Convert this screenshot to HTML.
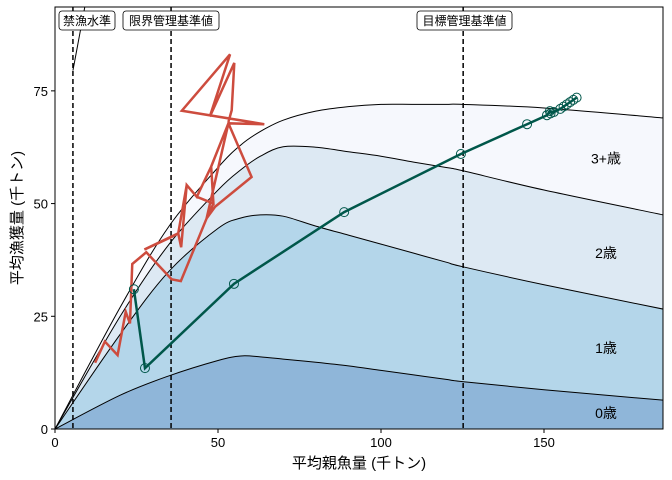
<!DOCTYPE html>
<html><head><meta charset="utf-8">
<style>
body{margin:0;background:#fff;}
svg{display:block;font-family:"Liberation Sans","Noto Sans CJK JP",sans-serif;}
</style></head>
<body>
<svg id="chart" width="672" height="480"></svg>
<script>
const xGrid=[0,20,35,50,57,63,70,80,90,100,110,120,125,150,186.5];
const curve0=[0,7.5,11.8,15.2,16.2,16.0,15.5,14.8,14.0,13.0,12.0,11.0,10.5,8.7,6.4];
const curve1=[0,21,35,44.5,46.8,47.5,47.2,45,43,41,39,37,36,32,26.6];
const curve2=[0,25,41,53,57.5,60.5,62.6,62.5,61.5,60.5,59.2,58,57.3,53,47.5];
const curve3=[0,27,45,58,63,66,68.5,70.5,71.5,72,72,72,72,71.2,69];
const ageLabels=["0歳","1歳","2歳","3+歳"];
const ageLabelY=[3.5,18,39,60];
const fills=["#8fb6d9","#b4d6ea","#dde9f3","#f6f8fd"];
const refNames=["禁漁水準","限界管理基準値","目標管理基準値"];
const refValues=[5.5,35.6,125.2];
const xTicks=[0,50,100,150];
const yTicks=[0,25,50,75];
const histSSB=[12.3,15.3,19.2,21.7,23.0,23.7,28.0,35.8,38.6,46.5,48.6,47.9,43.5,40.4,38.7,37.8,27.4,35.8,37.8,40.4,43.5,48.6,47.9,53.2,60.3,49.1,46.5,53.2,64.2,38.9,53.7,47.5,55.0,54.2,53.2];
const histCatch=[14.7,19.4,16.4,26.0,23.4,36.6,39.2,33.2,32.8,46.7,50.0,58.2,51.5,54.1,40.3,43.4,39.8,42.6,43.4,54.1,51.5,50.0,58.2,67.8,55.9,49.3,46.7,67.8,67.6,70.6,83.1,69.3,81.2,70.7,68.1];
const projSSB=[24.2,27.6,54.9,88.7,124.5,144.8,150.9,151.8,153,152,155,156,157,158,159,160];
const projCatch=[31.0,13.5,32.2,48.1,61.0,67.6,69.6,70.5,70.3,70.0,71,71.5,72,72.5,73,73.5];

const L=55,R=663,T=7,B=429,XMAX=186.5,YMAX=93.6;
const sx=v=>L+v/XMAX*(R-L), sy=v=>B-v/YMAX*(B-T);
const svg=document.getElementById('chart');
const NS='http://www.w3.org/2000/svg';
function mk(t,a,p){const e=document.createElementNS(NS,t);for(const k in a)e.setAttribute(k,a[k]);(p||svg).appendChild(e);return e;}
function smooth(c){
  const P=xGrid.map((x,i)=>[sx(x),sy(c[i])]);
  let d='M'+P[0][0]+','+P[0][1];
  for(let i=0;i<P.length-1;i++){
    const p0=P[i-1]||P[i],p1=P[i],p2=P[i+1],p3=P[i+2]||P[i+1];
    const c1=[p1[0]+(p2[0]-p0[0])/6,p1[1]+(p2[1]-p0[1])/6];
    const c2=[p2[0]-(p3[0]-p1[0])/6,p2[1]-(p3[1]-p1[1])/6];
    d+=' C'+c1+' '+c2+' '+p2;
  }
  return d;
}
const clip=mk('clipPath',{id:'pc'});mk('rect',{x:L,y:T,width:R-L,height:B-T},clip);
const g=mk('g',{'clip-path':'url(#pc)'});
const curves=[curve0,curve1,curve2,curve3];
for(let k=3;k>=0;k--){
  const a=mk('path',{d:smooth(curves[k])+' L'+R+','+B+' L'+L+','+B+' Z',fill:fills[k],stroke:'none'},g);
  
  
}
for(let k=0;k<4;k++){
  const l=mk('path',{d:smooth(curves[k]),fill:'none',stroke:'#000','stroke-width':1},g);
  
  
}
mk('line',{x1:sx(5.5),y1:sy(79.5),x2:sx(9.5),y2:sy(95),stroke:'#000','stroke-width':1},g);
refValues.forEach((v,i)=>{
  const l=mk('line',{x1:sx(v),x2:sx(v),y1:T,y2:B,stroke:'#000','stroke-width':1.5,'stroke-dasharray':'5,3'},g);
  
  
});
const hp=histSSB.map((x,i)=>sx(x)+','+sy(histCatch[i])).join(' ');
const hl=mk('polyline',{points:hp,fill:'none',stroke:'#cd4c3e','stroke-width':2.5},g);


const pp=projSSB.map((x,i)=>sx(x)+','+sy(projCatch[i])).join(' ');
const pl=mk('polyline',{points:pp,fill:'none',stroke:'#00574a','stroke-width':2.5},g);


projSSB.forEach((x,i)=>{
  const c=mk('circle',{cx:sx(x),cy:sy(projCatch[i]),r:4.5,fill:'none',stroke:'#00574a','stroke-width':1},g);
  
  
});
ageLabels.forEach((t,i)=>{
  const e=mk('text',{x:606,y:sy(ageLabelY[i])+5,'text-anchor':'middle','font-size':14});
  e.textContent=t;
  
  
});
const boxes=[[59,56],[123,96],[417,95]];
refNames.forEach((t,i)=>{
  const r=mk('rect',{x:boxes[i][0],y:11,width:boxes[i][1],height:19,rx:3,fill:'#fff',stroke:'#000','stroke-width':0.8});
  
  
  const e=mk('text',{x:boxes[i][0]+boxes[i][1]/2,y:25,'text-anchor':'middle','font-size':12});
  e.textContent=t;
  
  
});
mk('rect',{x:L,y:T,width:R-L,height:B-T,fill:'none',stroke:'#000','stroke-width':1});
xTicks.forEach(v=>{
  mk('line',{x1:sx(v),x2:sx(v),y1:B,y2:B+4,stroke:'#000'});
  const e=mk('text',{x:sx(v),y:B+18,'text-anchor':'middle','font-size':13});
  e.textContent=v;
  
  
});
yTicks.forEach(v=>{
  mk('line',{x1:L-4,x2:L,y1:sy(v),y2:sy(v),stroke:'#000'});
  const e=mk('text',{x:L-7,y:sy(v)+5,'text-anchor':'end','font-size':13});
  e.textContent=v;
  
  
});
const xt=mk('text',{x:359,y:468,'text-anchor':'middle','font-size':15});
xt.textContent='平均親魚量 (千トン)';


const yt=mk('text',{x:0,y:0,'text-anchor':'middle','font-size':15,transform:'translate(22,218) rotate(-90)'});
yt.textContent='平均漁獲量 (千トン)';


</script>
</body></html>
